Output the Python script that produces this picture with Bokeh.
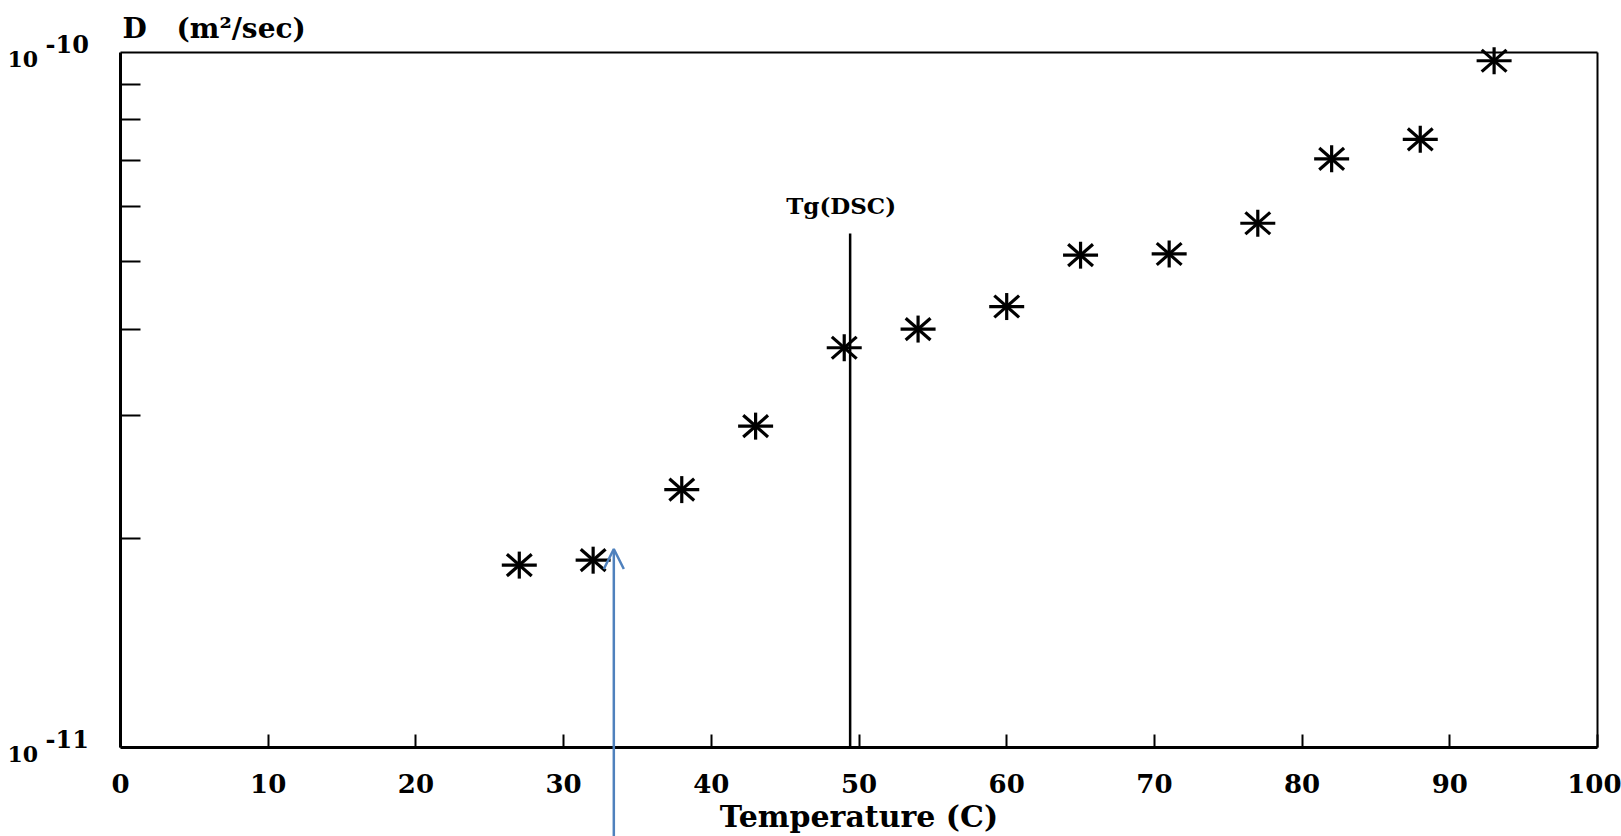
import math
from bokeh.plotting import figure
from bokeh.models import (FixedTicker, Label, Arrow, OpenHead, CustomJSTickFormatter,
                          ColumnDataSource, Range1d, LinearAxis, LogAxis)
from bokeh.embed import file_html
from bokeh.resources import INLINE

# ---- data ----
temperature_c = [27, 32, 38, 43, 49, 54, 60, 65, 71, 77, 82, 88, 93]
diffusion_m2s = [1.83e-11, 1.86e-11, 2.35e-11, 2.90e-11, 3.76e-11, 4.00e-11, 4.31e-11,
                 5.11e-11, 5.13e-11, 5.68e-11, 7.03e-11, 7.50e-11, 9.73e-11]

x_ticks = [0, 10, 20, 30, 40, 50, 60, 70, 80, 90, 100]
y_major = [1e-11, 1e-10]
y_minor = [2e-11, 3e-11, 4e-11, 5e-11, 6e-11, 7e-11, 8e-11, 9e-11]
y_tick_base = ["10", "10"]
y_tick_exp = ["-11", "-10"]

tg_dsc_temp = 49.4
tg_line_top = 5.49e-11
tg_label = "Tg(DSC)"

arrow_temp = 33.4
arrow_tip = 1.93e-11
arrow_tail = 7.4e-12

x_label = "Temperature (C)"
y_label_symbol = "D"
y_label_unit = "(m\u00b2/sec)"

FONT = "DejaVu Serif"
BLUE = "#4F81BD"

# ---- page layout (pixels) ----
W, H = 1621, 836
PX_L, PX_R, PX_T, PX_B = 120, 1597, 52, 747

x0, x1 = x_ticks[0], x_ticks[-1]
ux = (x1 - x0) / (PX_R - PX_L)
l0, l1 = math.log10(y_major[0]), math.log10(y_major[1])
uy = (l1 - l0) / (PX_B - PX_T)
x_range = Range1d(x0 - PX_L * ux, x1 + (W - PX_R) * ux)
y_range = Range1d(10 ** (l0 - (H - PX_B) * uy), 10 ** (l1 + PX_T * uy))

p = figure(width=W, height=H, x_range=x_range, y_range=y_range,
           y_axis_type="log", output_backend="svg", toolbar_location=None,
           min_border_left=0, min_border_right=0, min_border_top=0, min_border_bottom=0)
p.grid.visible = False
p.outline_line_color = None
p.background_fill_color = "white"
p.border_fill_color = "white"

empty = CustomJSTickFormatter(code="return ''")

xa = p.xaxis[0]
xa.fixed_location = y_major[0]
xa.bounds = (x0, x1)
xa.ticker = FixedTicker(ticks=x_ticks)
xa.major_tick_in = 13
xa.major_tick_out = 0
xa.minor_tick_in = 0
xa.minor_tick_out = 0
xa.axis_line_width = 3
xa.axis_line_color = "black"
xa.major_tick_line_width = 2
xa.major_tick_line_color = "black"
xa.major_label_text_font = FONT
xa.major_label_text_font_style = "bold"
xa.major_label_text_font_size = "26px"
xa.major_label_text_color = "black"
xa.major_label_standoff = 26
xa.axis_label = x_label
xa.axis_label_text_font = FONT
xa.axis_label_text_font_style = "bold"
xa.axis_label_text_font_size = "30px"
xa.axis_label_text_color = "black"
xa.axis_label_standoff = 3

ya = p.yaxis[0]
ya.fixed_location = x0
ya.bounds = (y_major[0], y_major[1])
ya.ticker = FixedTicker(ticks=y_major, minor_ticks=y_minor)
ya.major_tick_in = 0
ya.major_tick_out = 0
ya.minor_tick_in = 20
ya.minor_tick_out = 0
ya.minor_tick_line_width = 2
ya.minor_tick_line_color = "black"
ya.axis_line_width = 3
ya.axis_line_color = "black"
ya.formatter = empty

# top and right frame lines as bare axes
top = LinearAxis(fixed_location=y_major[1], bounds=(x0, x1), ticker=FixedTicker(ticks=[]),
                 formatter=empty, major_tick_in=0, major_tick_out=0, minor_tick_in=0,
                 minor_tick_out=0, axis_line_width=2, axis_line_color="black")
p.add_layout(top, "above")
right = LogAxis(fixed_location=x1, bounds=(y_major[0], y_major[1]), ticker=FixedTicker(ticks=[]),
                formatter=empty, major_tick_in=0, major_tick_out=0, minor_tick_in=0,
                minor_tick_out=0, axis_line_width=2, axis_line_color="black")
p.add_layout(right, "right")

# asterisk markers built from rotated dashes
src = ColumnDataSource(dict(x=temperature_c, y=diffusion_m2s))
for ang, sz in [(0.0, 35), (math.pi / 2, 27), (0.72, 33), (-0.72, 33)]:
    p.scatter("x", "y", source=src, marker="dash", size=sz, angle=ang,
              line_color="black", line_width=3.2)

# Tg(DSC) vertical line
p.segment(x0=[tg_dsc_temp], y0=[y_major[0]], x1=[tg_dsc_temp], y1=[tg_line_top],
          line_color="black", line_width=2.5)
p.add_layout(Label(x=tg_dsc_temp, y=tg_line_top, text=tg_label, x_offset=-9, y_offset=28,
                   text_align="center", text_baseline="middle", text_font=FONT,
                   text_font_style="bold", text_font_size="23px", text_color="black"))

# blue arrow
p.add_layout(Arrow(end=OpenHead(size=20, line_color=BLUE, line_width=2.5),
                   x_start=arrow_temp, y_start=arrow_tail, x_end=arrow_temp, y_end=arrow_tip,
                   line_color=BLUE, line_width=2.5))

# y tick labels "10^-n"
for yv, b, e in zip(y_major, y_tick_base, y_tick_exp):
    p.add_layout(Label(x=x0, y=yv, text=b, x_offset=-113, y_offset=-6, text_align="left",
                       text_baseline="middle", text_font=FONT, text_font_style="bold",
                       text_font_size="22px", text_color="black"))
    p.add_layout(Label(x=x0, y=yv, text=e, x_offset=-75, y_offset=9, text_align="left",
                       text_baseline="middle", text_font=FONT, text_font_style="bold",
                       text_font_size="24px", text_color="black"))

# y axis title at the top-left
p.add_layout(Label(x=x0, y=y_major[1], text=y_label_symbol, x_offset=2, y_offset=24,
                   text_align="left", text_baseline="middle", text_font=FONT,
                   text_font_style="bold", text_font_size="28px", text_color="black"))
p.add_layout(Label(x=x0, y=y_major[1], text=y_label_unit, x_offset=56, y_offset=24,
                   text_align="left", text_baseline="middle", text_font=FONT,
                   text_font_style="bold", text_font_size="28px", text_color="black"))

open("out.html", "w").write(file_html(p, INLINE))
